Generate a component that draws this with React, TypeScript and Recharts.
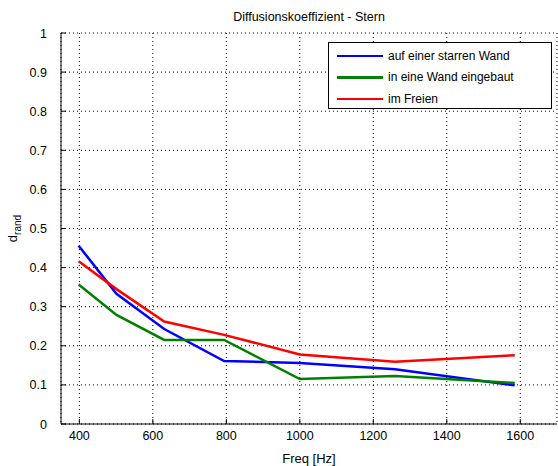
import { LineChart, Line, XAxis, YAxis, CartesianGrid } from "recharts";

// third-octave centre frequencies (Hz)
const freqs = [398, 501, 631, 794, 1000, 1259, 1585];

const starreWand = [0.456, 0.333, 0.243, 0.161, 0.156, 0.14, 0.099];
const eingebaut = [0.357, 0.279, 0.215, 0.215, 0.115, 0.123, 0.105];
const imFreien = [0.416, 0.345, 0.262, 0.228, 0.178, 0.159, 0.176];

const xTicks = [400, 600, 800, 1000, 1200, 1400, 1600];
const yTicks = [0, 0.1, 0.2, 0.3, 0.4, 0.5, 0.6, 0.7, 0.8, 0.9, 1];

const series = [
  { key: "starr", name: "auf einer starren Wand", color: "#0000ff" },
  { key: "eingebaut", name: "in eine Wand eingebaut", color: "#008000" },
  { key: "frei", name: "im Freien", color: "#ff0000" },
];

const data = freqs.map((f, i) => ({
  f,
  starr: starreWand[i],
  eingebaut: eingebaut[i],
  frei: imFreien[i],
}));

const FONT = "'Liberation Sans', Arial, Helvetica, sans-serif";
const TICK_LEN = 5;

const BottomTick = (props: any) => {
  const { x, y, payload } = props;
  return (
    <g>
      <line x1={x} y1={y} x2={x} y2={y - TICK_LEN} stroke="#000" />
      <text x={x} y={y + 16} textAnchor="middle" fontSize={12.5} fill="#000" fontFamily={FONT}>
        {payload.value}
      </text>
    </g>
  );
};

const TopTick = (props: any) => {
  const { x, y } = props;
  return <line x1={x} y1={y} x2={x} y2={y + TICK_LEN} stroke="#000" />;
};

const LeftTick = (props: any) => {
  const { x, y, payload } = props;
  const label = String(Math.round(payload.value * 10) / 10);
  return (
    <g>
      <line x1={x} y1={y} x2={x + TICK_LEN} y2={y} stroke="#000" />
      <text x={x - 14} y={y + 4.5} textAnchor="end" fontSize={12.5} fill="#000" fontFamily={FONT}>
        {label}
      </text>
    </g>
  );
};

const RightTick = (props: any) => {
  const { x, y } = props;
  return <line x1={x} y1={y} x2={x - TICK_LEN} y2={y} stroke="#000" />;
};

const YLabel = (props: any) => {
  const { viewBox } = props;
  const cx = viewBox.x + 17;
  const cy = viewBox.y + viewBox.height / 2;
  return (
    <text
      x={cx}
      y={cy}
      transform={`rotate(-90, ${cx}, ${cy})`}
      textAnchor="middle"
      fontSize={13}
      fontFamily={FONT}
      fill="#000"
    >
      d
      <tspan dy={4} fontSize={10}>
        rand
      </tspan>
    </text>
  );
};

const LegendBox = () => (
  <div
    style={{
      position: "absolute",
      left: 328,
      top: 42,
      border: "1px solid #000",
      background: "#fff",
      width: 222,
      height: 63,
      fontFamily: FONT,
      fontSize: 12,
      paddingTop: 2,
    }}
  >
    {series.map((s) => (
      <div key={s.key} style={{ display: "flex", alignItems: "center", height: 21.5 }}>
        <div style={{ width: 46, height: 2.5, background: s.color, marginLeft: 8, marginRight: 5 }} />
        <span>{s.name}</span>
      </div>
    ))}
  </div>
);

export default function App() {
  return (
    <div style={{ position: "absolute", left: 0, top: 0, width: 558, height: 466, background: "#fff" }}>
      <div
        style={{
          position: "absolute",
          left: 61,
          top: 10,
          width: 496,
          textAlign: "center",
          fontFamily: FONT,
          fontSize: 12.5,
        }}
      >
        Diffusionskoeffizient - Stern
      </div>
      <LineChart width={558} height={466} data={data} margin={{ top: 33, right: 1, bottom: 0, left: 0 }}>
        <CartesianGrid stroke="#000" strokeDasharray="1 3" strokeWidth={1} xAxisId="bottom" yAxisId="left" />
        <XAxis
          xAxisId="bottom"
          dataKey="f"
          type="number"
          domain={[350, 1700]}
          ticks={xTicks}
          height={42}
          tickSize={0}
          tickMargin={0}
          tickLine={false}
          axisLine={{ stroke: "#000" }}
          tick={<BottomTick />}
          interval={0}
          allowDataOverflow
          label={{ value: "Freq [Hz]", position: "insideBottom", offset: 3, fontSize: 13, fill: "#000", fontFamily: FONT }}
        />
        <XAxis
          xAxisId="top"
          orientation="top"
          dataKey="f"
          type="number"
          domain={[350, 1700]}
          ticks={xTicks}
          height={0}
          tickSize={0}
          tickMargin={0}
          tickLine={false}
          axisLine={{ stroke: "#000" }}
          tick={<TopTick />}
          interval={0}
        />
        <YAxis
          yAxisId="left"
          type="number"
          domain={[0, 1]}
          ticks={yTicks}
          width={61}
          tickSize={0}
          tickMargin={0}
          tickLine={false}
          axisLine={{ stroke: "#000" }}
          tick={<LeftTick />}
          interval={0}
          label={<YLabel />}
        />
        <YAxis
          yAxisId="right"
          orientation="right"
          type="number"
          domain={[0, 1]}
          ticks={yTicks}
          width={0}
          tickSize={0}
          tickMargin={0}
          tickLine={false}
          axisLine={{ stroke: "#000" }}
          tick={<RightTick />}
          interval={0}
        />
        {series.map((s) => (
          <Line
            key={s.key}
            xAxisId="bottom"
            yAxisId="left"
            type="linear"
            dataKey={s.key}
            name={s.name}
            stroke={s.color}
            strokeWidth={2.5}
            dot={false}
            isAnimationActive={false}
          />
        ))}
      </LineChart>
      <LegendBox />
    </div>
  );
}
